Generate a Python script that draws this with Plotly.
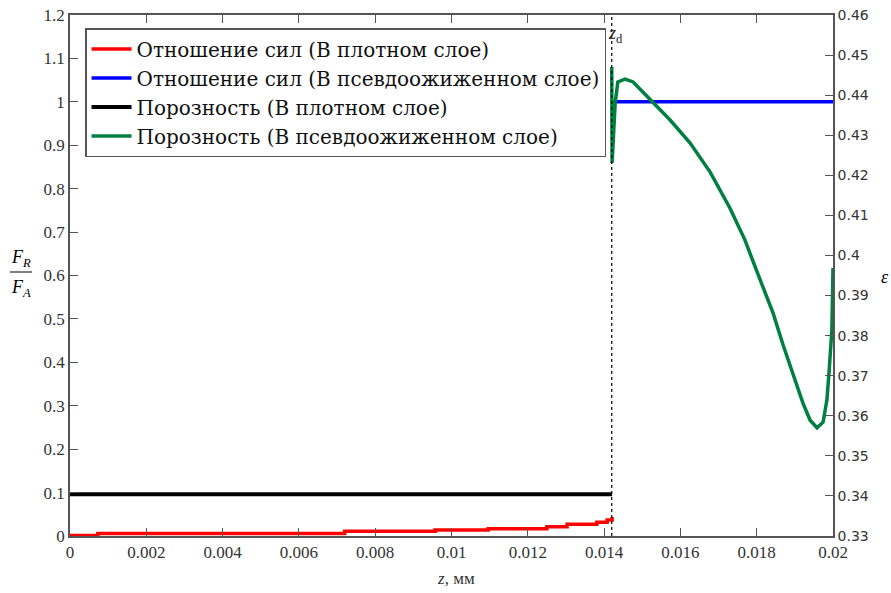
import plotly.graph_objects as go

# ---- data ----
z_d = 0.0142

red_z = [0.0, 0.00073, 0.0072, 0.00957, 0.01096, 0.0125, 0.01303, 0.01381, 0.01408, 0.01421]
red_v = [0.001, 0.006, 0.011, 0.0138, 0.0168, 0.0214, 0.027, 0.0316, 0.0369, 0.0438]

blue_z = [0.01421, 0.02]
blue_v = [1.0, 1.0]

black_z = [0.0, 0.01421]
black_v = [0.3404, 0.3404]

green_z = [0.01420, 0.01421, 0.01429, 0.01436, 0.01455, 0.01476, 0.01520, 0.01573, 0.01625,
           0.01678, 0.01730, 0.01769, 0.01801, 0.01843, 0.01869, 0.01895, 0.01921, 0.01940,
           0.01958, 0.01974, 0.01984, 0.01990, 0.01997, 0.02000]
green_v = [0.4470, 0.4231, 0.4380, 0.4433, 0.4440, 0.4433, 0.4390, 0.4338, 0.4281,
           0.4208, 0.4118, 0.4039, 0.3959, 0.3856, 0.3777, 0.3707, 0.3632, 0.3589,
           0.3570, 0.3584, 0.3639, 0.3714, 0.3814, 0.3969]

x_ticks = [0, 0.002, 0.004, 0.006, 0.008, 0.01, 0.012, 0.014, 0.016, 0.018, 0.02]
x_ticktext = ["0", "0.002", "0.004", "0.006", "0.008", "0.01", "0.012", "0.014", "0.016", "0.018", "0.02"]
y_ticks = [0, 0.1, 0.2, 0.3, 0.4, 0.5, 0.6, 0.7, 0.8, 0.9, 1.0, 1.1, 1.2]
y_ticktext = ["0", "0.1", "0.2", "0.3", "0.4", "0.5", "0.6", "0.7", "0.8", "0.9", "1", "1.1", "1.2"]
y2_ticks = [0.33, 0.34, 0.35, 0.36, 0.37, 0.38, 0.39, 0.40, 0.41, 0.42, 0.43, 0.44, 0.45, 0.46]
y2_ticktext = ["0.33", "0.34", "0.35", "0.36", "0.37", "0.38", "0.39", "0.4", "0.41", "0.42", "0.43", "0.44", "0.45", "0.46"]

names = ["Отношение сил (В плотном слое)",
         "Отношение сил (В псевдоожиженном слое)",
         "Порозность (В плотном слое)",
         "Порозность (В псевдоожиженном слое)"]

SERIF = "Liberation Serif"
SANS = "DejaVu Sans"

fig = go.Figure()
fig.add_trace(go.Scatter(x=red_z, y=red_v, mode="lines", name=names[0],
                         line=dict(color="#ff0000", width=3.5, shape="hv")))
fig.add_trace(go.Scatter(x=blue_z, y=blue_v, mode="lines", name=names[1],
                         line=dict(color="#0000ff", width=3.5)))
fig.add_trace(go.Scatter(x=black_z, y=black_v, mode="lines", name=names[2], yaxis="y2",
                         line=dict(color="#000000", width=4)))
fig.add_trace(go.Scatter(x=green_z, y=green_v, mode="lines", name=names[3], yaxis="y2",
                         line=dict(color="#008040", width=3.5)))

axcol = "#555555"
tickfont_serif = dict(family=SERIF, size=17, color="#333333")

# plot area at x 70..833, y 15..536 of the 891x593 page
fig.update_layout(
    width=891, height=593,
    margin=dict(l=70, r=58, t=15, b=57, autoexpand=False),
    paper_bgcolor="white", plot_bgcolor="white",
    showlegend=True,
    legend=dict(x=0.0197, y=0.975, xanchor="left", yanchor="top",
                bgcolor="white", bordercolor=axcol, borderwidth=1.5,
                font=dict(family="DejaVu Serif", size=20, color="#111111"),
                tracegroupgap=0, itemwidth=40),
    xaxis=dict(range=[0, 0.02], tickvals=x_ticks, ticktext=x_ticktext, automargin=False,
               showgrid=False, zeroline=False, showline=True, linecolor=axcol, linewidth=1.5,
               ticks="inside", ticklen=8, tickcolor=axcol, mirror="ticks",
               tickfont=tickfont_serif),
    yaxis=dict(range=[0, 1.2], tickvals=y_ticks, ticktext=y_ticktext, automargin=False,
               showgrid=False, zeroline=False, showline=True, linecolor=axcol, linewidth=1.5,
               ticks="inside", ticklen=8, tickcolor=axcol,
               tickfont=tickfont_serif),
    yaxis2=dict(range=[0.33, 0.46], tickvals=y2_ticks, ticktext=y2_ticktext, automargin=False,
                overlaying="y", side="right",
                showgrid=False, zeroline=False, showline=True, linecolor=axcol, linewidth=1.5,
                ticks="inside", ticklen=8, tickcolor=axcol,
                tickfont=dict(family=SANS, size=14, color="#333333")),
)

def px(xp):
    return (xp - 70) / 763.0

def py(yp):
    return 1 - (yp - 15) / 521.0

# dashed line at z_d
fig.add_shape(type="line", x0=z_d, x1=z_d, y0=0, y1=1, xref="x", yref="paper",
              line=dict(color="black", width=1.2, dash="3px,3px"))
fig.add_annotation(x=z_d, y=py(34), xref="x", yref="paper", xanchor="left", yanchor="middle", xshift=-6,
                   text="<i>z</i><sub>d</sub>", showarrow=False,
                   font=dict(family=SERIF, size=18, color="#222222"))

# left axis title as a fraction
ann_font = dict(family=SERIF, size=18, color="black")
fig.add_annotation(x=px(21), y=py(258), xref="paper", yref="paper", xanchor="center", yanchor="middle",
                   text="<i>F<sub>R</sub></i>", showarrow=False, font=ann_font)
fig.add_annotation(x=px(21), y=py(288), xref="paper", yref="paper", xanchor="center", yanchor="middle",
                   text="<i>F<sub>A</sub></i>", showarrow=False, font=ann_font)
fig.add_shape(type="line", x0=px(10), x1=px(32), y0=py(272), y1=py(272), xref="paper", yref="paper",
              line=dict(color="black", width=1))
fig.add_annotation(x=px(885), y=py(277), xref="paper", yref="paper", xanchor="center", yanchor="middle",
                   text="<i>ε</i>", showarrow=False, font=ann_font)
fig.add_annotation(x=px(456), y=py(578), xref="paper", yref="paper", xanchor="center", yanchor="middle",
                   text="<i>z</i>, мм", showarrow=False,
                   font=dict(family=SERIF, size=17, color="#333333"))

# remove the default 8px page margin so the figure fills the window; hide the modebar
fig.write_html("out.html", config={"displayModeBar": False},
               post_script="document.body.style.margin='0';")
